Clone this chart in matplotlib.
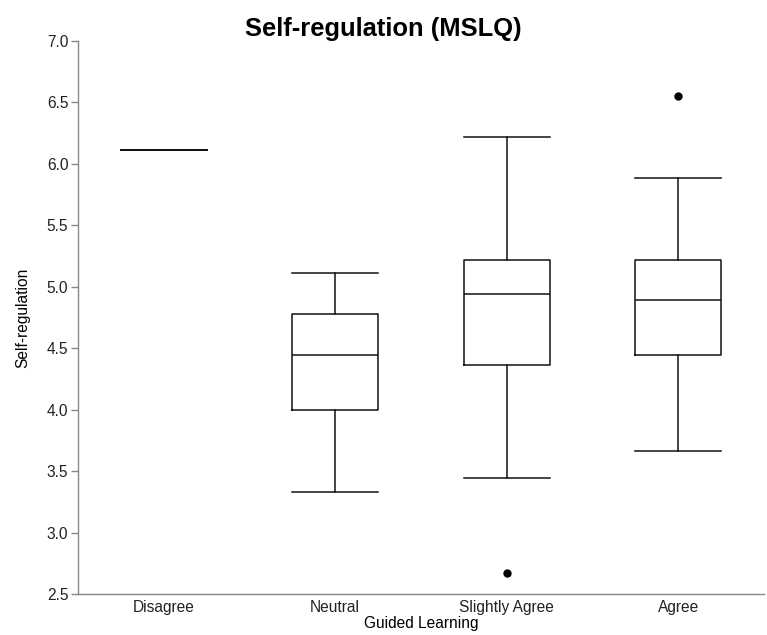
import matplotlib
matplotlib.use("Agg")
import matplotlib.pyplot as plt

plt.rcParams["font.family"] = ["Liberation Sans", "DejaVu Sans"]

# Summary statistics per response group (MSLQ self-regulation scale)
groups = ["Disagree", "Neutral", "Slightly Agree", "Agree"]
whislo = [6.111, 3.333, 3.444, 3.667]
q1 = [6.111, 4.000, 4.361, 4.444]
med = [6.111, 4.444, 4.944, 4.889]
q3 = [6.111, 4.778, 5.222, 5.222]
whishi = [6.111, 5.111, 6.222, 5.889]
fliers = [[], [], [2.667], [6.556]]

stats = [dict(label=g, whislo=lo, q1=a, med=m, q3=b, whishi=hi, fliers=f)
         for g, lo, a, m, b, hi, f in zip(groups, whislo, q1, med, q3, whishi, fliers)]

fig = plt.figure(figsize=(7.67, 6.35), dpi=100)
ax = fig.add_axes([0.1017, 0.0646, 0.8943, 0.8708])

line = dict(color="#111111", linewidth=1.1)
ax.bxp(stats, positions=range(len(groups)), widths=0.5,
       boxprops=line, whiskerprops=line, capprops=line, medianprops=line,
       flierprops=dict(marker="o", markersize=5, markerfacecolor="black",
                       markeredgecolor="black"),
       showcaps=True, capwidths=0.5)

ax.set_xlim(-0.5, len(groups) - 0.5)
ax.set_ylim(2.5, 7.0)
ax.set_yticks([2.5, 3.0, 3.5, 4.0, 4.5, 5.0, 5.5, 6.0, 6.5, 7.0])
ax.set_yticklabels([f"{v:.1f}" for v in ax.get_yticks()])

for s in ["top", "right"]:
    ax.spines[s].set_visible(False)
for s in ["left", "bottom"]:
    ax.spines[s].set_color("#888888")
    ax.spines[s].set_linewidth(1.0)
ax.tick_params(axis="y", color="#888888", length=5, width=1, labelsize=11.2,
               labelcolor="#222222", pad=2)
ax.tick_params(axis="x", length=0, labelsize=11.2, labelcolor="#222222", pad=4)

ax.set_xlabel("Guided Learning", fontsize=11.2, labelpad=1)
ax.set_ylabel("Self-regulation", fontsize=11.2, labelpad=12)
# title centred on the whole figure
fig.suptitle("Self-regulation (MSLQ)", fontsize=18.4, fontweight="bold",
             x=0.5, y=0.9354, va="bottom")

fig.savefig("out.png", dpi=100)
